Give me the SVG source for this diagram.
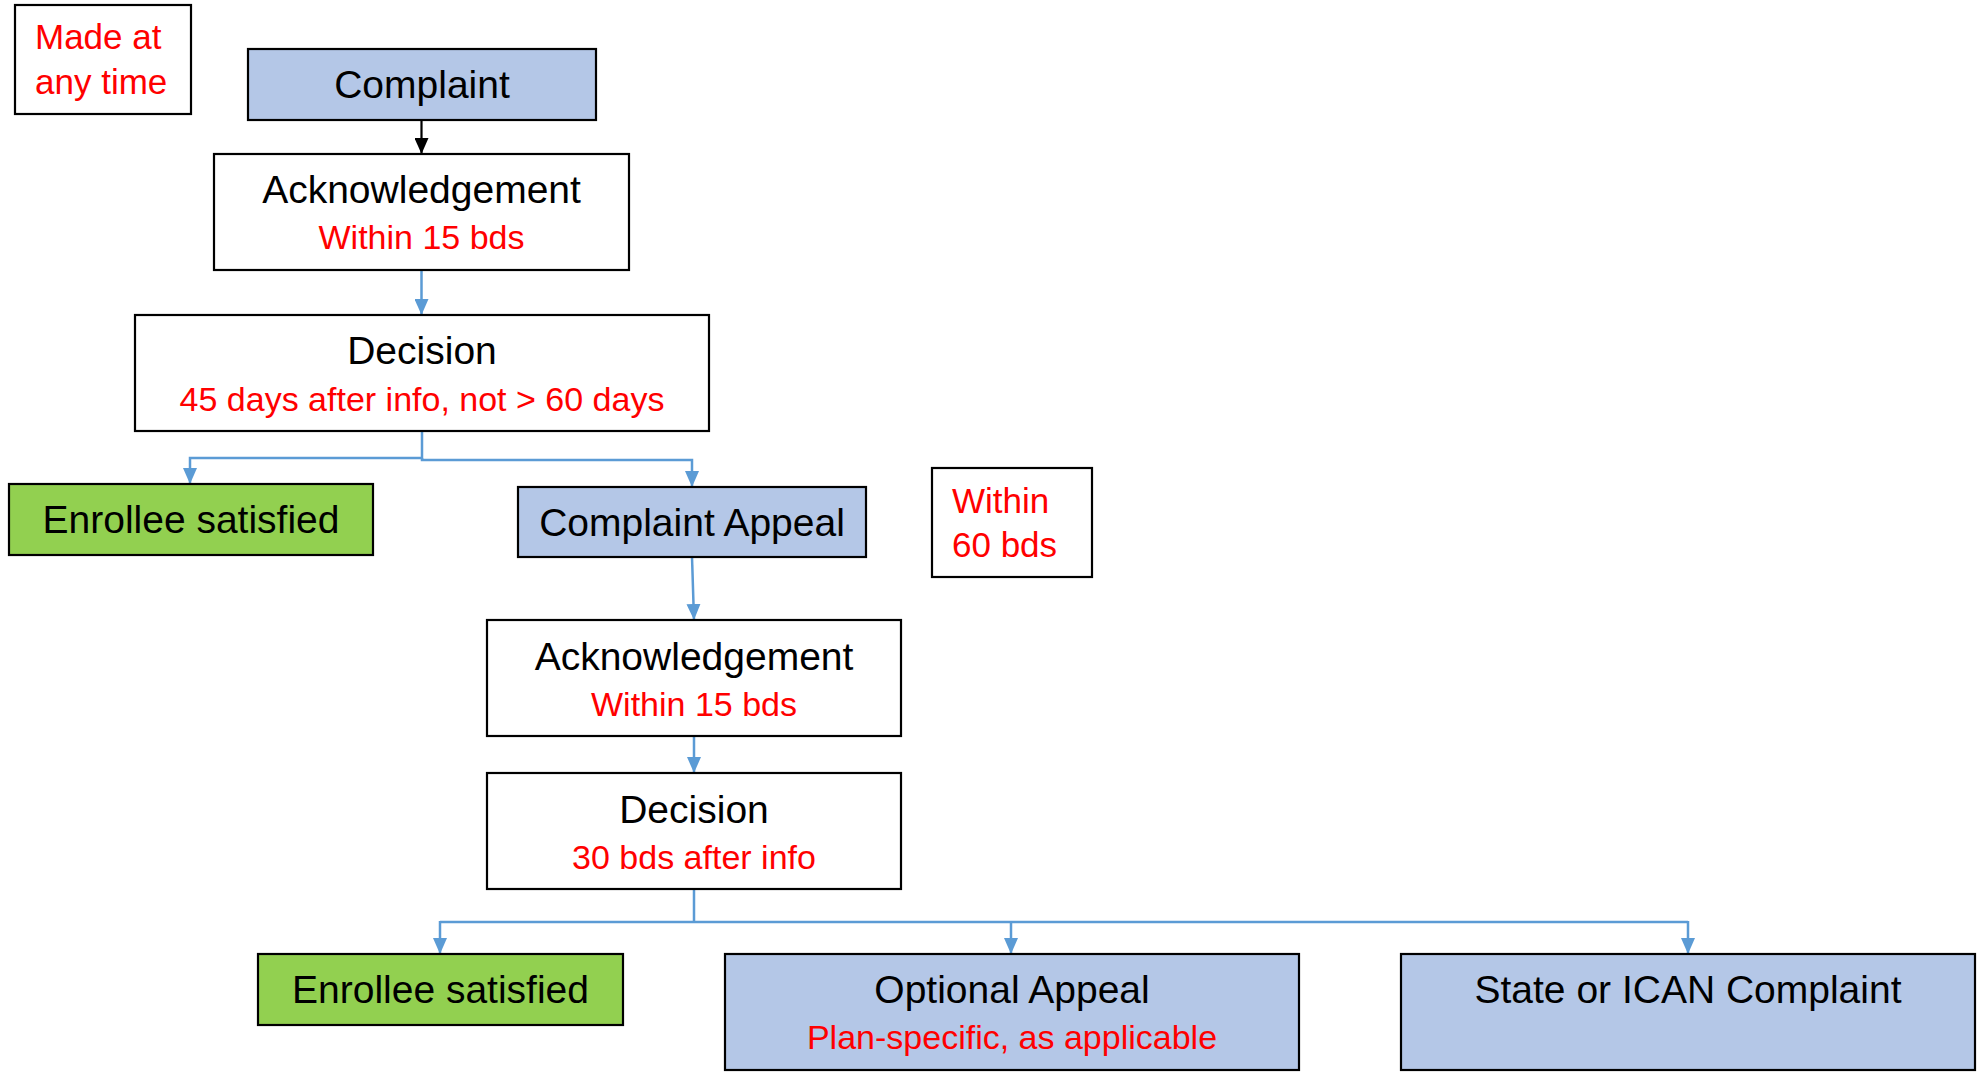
<svg xmlns="http://www.w3.org/2000/svg" width="1977" height="1072" viewBox="0 0 1977 1072">
<style>
.box{stroke:#000;stroke-width:2.2}
.white{fill:#fff}
.blue{fill:#B4C7E7}
.green{fill:#92D050}
.t{font-family:"Liberation Sans",Arial,sans-serif;font-size:39px;fill:#000;text-anchor:middle}
.r{font-family:"Liberation Sans",Arial,sans-serif;font-size:34px;fill:#FF0000;text-anchor:middle}
.rl{font-family:"Liberation Sans",Arial,sans-serif;font-size:35px;fill:#FF0000}
.c{fill:none;stroke:#5B9BD5;stroke-width:2.5}
.ck{fill:none;stroke:#000;stroke-width:2.2}
</style>
<defs>
<marker id="bb" markerUnits="userSpaceOnUse" markerWidth="16" markerHeight="14" viewBox="0 0 16 14" refX="16" refY="7" orient="auto">
<path d="M0,0 L16,7 L0,14 Z" fill="#5B9BD5"/>
</marker>
<marker id="bk" markerUnits="userSpaceOnUse" markerWidth="16" markerHeight="14" viewBox="0 0 16 14" refX="16" refY="7" orient="auto">
<path d="M0,0 L16,7 L0,14 Z" fill="#000"/>
</marker>
</defs>

<g id="connectors">
<path class="ck" d="M421.5,120 V154" marker-end="url(#bk)"/>
<path class="c" d="M421.5,270 V315" marker-end="url(#bb)"/>
<path class="c" d="M422,431 V458 H190 V484" marker-end="url(#bb)"/>
<path class="c" d="M422,458 V460 H692 V487" marker-end="url(#bb)"/>
<path class="c" d="M692,557 L694,620" marker-end="url(#bb)"/>
<path class="c" d="M694,736 V773" marker-end="url(#bb)"/>
<path class="c" d="M694,889 V922"/>
<path class="c" d="M440,922 H1688"/>
<path class="c" d="M440,921 V954" marker-end="url(#bb)"/>
<path class="c" d="M1011,921 V954" marker-end="url(#bb)"/>
<path class="c" d="M1688,921 V954" marker-end="url(#bb)"/>
</g>

<g id="note-made">
<rect class="box white" x="15" y="5" width="176" height="109"/>
<text class="rl" x="35" y="49">Made at</text>
<text class="rl" x="35" y="94">any time</text>
</g>

<g id="complaint">
<rect class="box blue" x="248" y="49" width="348" height="71"/>
<text class="t" x="422" y="98">Complaint</text>
</g>

<g id="ack1">
<rect class="box white" x="214" y="154" width="415" height="116"/>
<text class="t" x="421.5" y="203">Acknowledgement</text>
<text class="r" x="421.5" y="249">Within 15 bds</text>
</g>

<g id="decision1">
<rect class="box white" x="135" y="315" width="574" height="116"/>
<text class="t" x="422" y="364">Decision</text>
<text class="r" x="422" y="411">45 days after info, not &gt; 60 days</text>
</g>

<g id="enrollee1">
<rect class="box green" x="9" y="484" width="364" height="71"/>
<text class="t" x="191" y="533">Enrollee satisfied</text>
</g>

<g id="complaint-appeal">
<rect class="box blue" x="518" y="487" width="348" height="70"/>
<text class="t" x="692" y="536">Complaint Appeal</text>
</g>

<g id="note-60">
<rect class="box white" x="932" y="468" width="160" height="109"/>
<text class="rl" x="952" y="513">Within</text>
<text class="rl" x="952" y="557">60 bds</text>
</g>

<g id="ack2">
<rect class="box white" x="487" y="620" width="414" height="116"/>
<text class="t" x="694" y="670">Acknowledgement</text>
<text class="r" x="694" y="716">Within 15 bds</text>
</g>

<g id="decision2">
<rect class="box white" x="487" y="773" width="414" height="116"/>
<text class="t" x="694" y="823">Decision</text>
<text class="r" x="694" y="869">30 bds after info</text>
</g>

<g id="enrollee2">
<rect class="box green" x="258" y="954" width="365" height="71"/>
<text class="t" x="440.5" y="1003">Enrollee satisfied</text>
</g>

<g id="optional-appeal">
<rect class="box blue" x="725" y="954" width="574" height="116"/>
<text class="t" x="1012" y="1003">Optional Appeal</text>
<text class="r" x="1012" y="1049">Plan-specific, as applicable</text>
</g>

<g id="state-ican">
<rect class="box blue" x="1401" y="954" width="574" height="116"/>
<text class="t" x="1688" y="1003">State or ICAN Complaint</text>
</g>
</svg>
